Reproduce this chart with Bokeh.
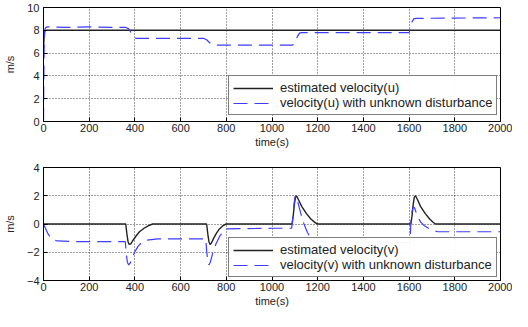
from bokeh.plotting import figure
from bokeh.layouts import column
from bokeh.models import Range1d, FixedTicker, Legend, LegendItem
from bokeh.embed import file_html
from bokeh.resources import INLINE

# ---- data ----
x_ticks = [0, 200, 400, 600, 800, 1000, 1200, 1400, 1600, 1800, 2000]
u_ticks = [0, 2, 4, 6, 8, 10]
v_ticks = [-4, -2, 0, 2, 4]

t_u_est = [0, 2, 4, 6, 10, 2000]
u_est = [6.4, 7.2, 7.8, 7.95, 8.0, 8.0]

t_u_dist = [0, 1, 3, 6, 10, 20, 100, 200, 300, 360, 372, 380, 388, 395, 405, 600, 700, 715, 725, 735, 745,
            1090, 1100, 1110, 1120, 1130, 1600, 1605, 1612, 1620, 1630, 2000]
u_dist = [0, 3.0, 7.0, 8.1, 8.25, 8.3, 8.25, 8.3, 8.25, 8.25, 8.15, 7.9, 7.55, 7.4, 7.3, 7.3, 7.3, 7.15, 6.95, 6.8, 6.7,
          6.7, 6.9, 7.4, 7.75, 7.8, 7.8, 8.1, 8.7, 9.0, 9.05, 9.1]

t_v_est = [0, 360, 365, 370, 375, 382, 392, 405, 420, 440, 460, 478, 714, 719, 724, 729, 735, 745, 757, 770, 785, 800,
           1088, 1093, 1098, 1103, 1107, 1115, 1130, 1150, 1170, 1190, 1200,
           1608, 1613, 1618, 1623, 1628, 1636, 1650, 1670, 1690, 1705, 1715, 2000]
v_est = [0, 0, -0.7, -1.25, -1.45, -1.4, -1.15, -0.85, -0.55, -0.3, -0.12, 0, 0, -0.7, -1.25, -1.45, -1.35, -1.0, -0.65, -0.35, -0.12, 0,
         0, 0.6, 1.4, 1.9, 2.0, 1.75, 1.25, 0.75, 0.35, 0.08, 0,
         0, 0.6, 1.4, 1.9, 2.0, 1.75, 1.25, 0.75, 0.35, 0.12, 0, 0]

t_v_dist = [0, 10, 20, 30, 40, 60, 150, 250, 358, 362, 367, 373, 380, 390, 402, 415, 430, 450, 500, 600, 710,
            714, 719, 724, 730, 740, 755, 770, 785, 800, 1000, 1086, 1092, 1097, 1101, 1105, 1112, 1125, 1140, 1155, 1170, 1185, 1200,
            1400, 1604, 1608, 1613, 1618, 1625, 1635, 1650, 1665, 1685, 1705, 1725, 2000]
v_dist = [0, -0.35, -0.7, -0.95, -1.1, -1.2, -1.25, -1.25, -1.25, -2.1, -2.7, -2.9, -2.75, -2.3, -1.9, -1.55, -1.3, -1.15, -1.05, -1.05, -1.05,
          -1.9, -2.6, -2.9, -2.7, -2.1, -1.4, -0.9, -0.55, -0.35, -0.3, -0.3, 0.6, 1.5, 1.95, 2.0, 1.6, 0.8, 0.0, -0.6, -1.0, -1.2, -1.25,
          -1.3, -1.3, 0.2, 0.9, 1.25, 1.1, 0.6, 0.15, -0.1, -0.3, -0.45, -0.55, -0.55]

FONT = "Liberation Sans"
BLUE = "#3d3dff"
TXT = "#222222"


def make_fig(height, top, bottom, yr, yticks, t1, y1, t2, y2, lab1, lab2, leg_y):
    p = figure(width=512, height=height, output_backend="svg", toolbar_location=None,
               x_range=Range1d(0, 2000), y_range=Range1d(*yr),
               min_border_left=38, min_border_right=12, min_border_top=top, min_border_bottom=bottom)
    p.background_fill_color = "white"
    p.border_fill_color = "white"
    p.outline_line_color = "black"
    p.outline_line_width = 1
    for ax in (p.xaxis[0], p.yaxis[0]):
        ax.axis_line_color = "black"
        ax.major_tick_in = 4
        ax.major_tick_out = 0
        ax.major_tick_line_color = "black"
        ax.minor_tick_line_color = None
        ax.major_label_text_font = FONT
        ax.major_label_text_font_size = "11px"
        ax.major_label_text_color = TXT
        ax.axis_label_text_font = FONT
        ax.axis_label_text_font_size = "11px"
        ax.axis_label_text_font_style = "normal"
        ax.axis_label_text_color = TXT
    p.xaxis.ticker = FixedTicker(ticks=x_ticks)
    p.yaxis.ticker = FixedTicker(ticks=yticks)
    p.xaxis.axis_label = "time(s)"
    p.yaxis.axis_label = "m/s"
    p.xaxis.major_label_standoff = 2
    p.xaxis.axis_label_standoff = 1
    p.yaxis.major_label_standoff = 4
    p.yaxis.axis_label_standoff = 8
    for g in (p.xgrid[0], p.ygrid[0]):
        g.grid_line_color = "black"
        g.grid_line_dash = "1 2"
        g.grid_line_width = 1
        g.grid_line_alpha = 0.75
    r1 = p.line(t1, y1, line_color=TXT, line_width=1.4)
    r2 = p.line(t2, y2, line_color=BLUE, line_width=1.2, line_dash="14 7")
    leg = Legend(items=[LegendItem(label=lab1, renderers=[r1]), LegendItem(label=lab2, renderers=[r2])],
                 location=(185, leg_y))
    leg.border_line_color = "black"
    leg.border_line_width = 1
    leg.background_fill_color = "white"
    leg.label_text_font = FONT
    leg.label_text_font_size = "13px"
    leg.label_text_color = TXT
    leg.glyph_width = 40
    leg.glyph_height = 12
    leg.label_height = 13
    leg.label_standoff = 7
    leg.spacing = 0
    leg.padding = 4
    leg.margin = 0
    p.add_layout(leg, "center")
    return p


p1 = make_fig(152, 7, 31, (0, 10), u_ticks, t_u_est, u_est, t_u_dist, u_dist,
              "estimated velocity(u)", "velocity(u) with unknown disturbance", 6)
p2 = make_fig(159, 15, 31, (-4, 4), v_ticks, t_v_est, v_est, t_v_dist, v_dist,
              "estimated velocity(v)", "velocity(v) with unknown disturbance", 3)

layout = column(p1, p2, spacing=0)
open("out.html", "w").write(file_html(layout, INLINE))
